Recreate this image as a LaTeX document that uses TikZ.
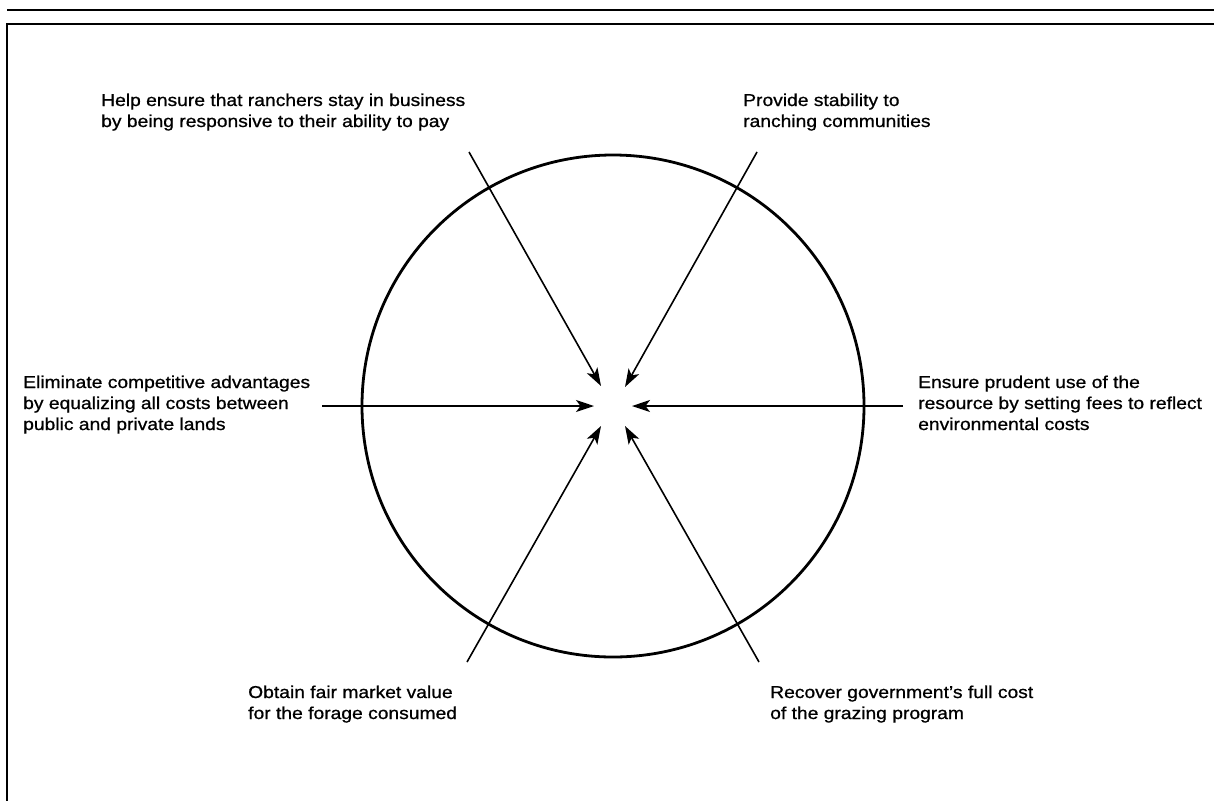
\documentclass[tikz,border=0pt]{standalone}
\usepackage{fontspec}
\setmainfont[FakeStretch=1.12,FakeBold=0.8]{Liberation Sans}
\usetikzlibrary{arrows.meta}
\begin{document}
\begin{tikzpicture}[x=1pt,y=-1pt,
  frameline/.style={line width=2.2pt},
  ring/.style={line width=2.8pt},
  goalarrow/.style={line width=1.6pt,-{Stealth[length=18pt,width=12pt,inset=4.5pt]}},
  goal/.style={anchor=base west,align=left,inner sep=0pt,font=\fontsize{17.2}{21}\selectfont}]
\useasboundingbox (0,0) rectangle (1214,801);
% frame
\coordinate (f1) at (7,10);
\coordinate (f2) at (1214,10);
\coordinate (f3) at (7,24);
\coordinate (f4) at (1214,24);
\coordinate (f5) at (7,801);
\draw[frameline] (f1) -- (f2);
\draw[frameline] (f4) -- (f3) -- (f5);
% circle
\node[circle,draw,ring,minimum size=502pt,inner sep=0pt] (ring) at (613,406) {};
% texts (base = baseline of last line)
\node[goal] (t1) at (101,127) {Help ensure that ranchers stay in business\\by being responsive to their ability to pay};
\node[goal] (t2) at (743,127) {Provide stability to\\ranching communities};
\node[goal] (t3) at (23,430) {Eliminate competitive advantages\\by equalizing all costs between\\public and private lands};
\node[goal] (t4) at (918,430) {Ensure prudent use of the\\resource by setting fees to reflect\\environmental costs};
\node[goal] (t5) at (248,719) {Obtain fair market value\\for the forage consumed};
\node[goal] (t6) at (770,719) {Recover government's full cost\\of the grazing program};
% arrow ends
\coordinate (s1) at (469,152);
\coordinate (e1) at (601,386);
\coordinate (s2) at (757,152);
\coordinate (e2) at (625,387);
\coordinate (s3) at (322,406);
\coordinate (e3) at (594,406);
\coordinate (s4) at (903,406);
\coordinate (e4) at (632,406);
\coordinate (s5) at (467,662);
\coordinate (e5) at (601,426);
\coordinate (s6) at (759,662);
\coordinate (e6) at (625,426);
\draw[goalarrow] (s1) -- (e1);
\draw[goalarrow] (s2) -- (e2);
\draw[goalarrow] (s3) -- (e3);
\draw[goalarrow] (s4) -- (e4);
\draw[goalarrow] (s5) -- (e5);
\draw[goalarrow] (s6) -- (e6);
\end{tikzpicture}
\end{document}
